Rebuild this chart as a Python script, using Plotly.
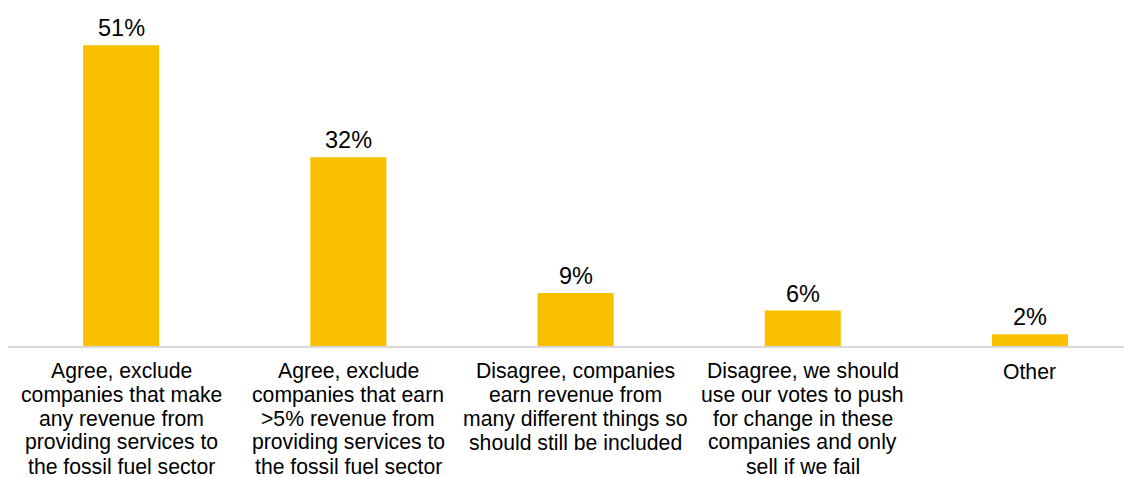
import plotly.graph_objects as go

categories = [
    "Agree, exclude<br>companies that make<br>any revenue from<br>providing services to<br>the fossil fuel sector",
    "Agree, exclude<br>companies that earn<br>>5% revenue from<br>providing services to<br>the fossil fuel sector",
    "Disagree, companies<br>earn revenue from<br>many different things so<br>should still be included",
    "Disagree, we should<br>use our votes to push<br>for change in these<br>companies and only<br>sell if we fail",
    "Other",
]
values = [51, 32, 9, 6, 2]
labels = [f"{v}%" for v in values]

FONT = "Liberation Sans, Arial, sans-serif"
xs = list(range(len(categories)))

fig = go.Figure(go.Bar(
    x=xs,
    y=values,
    marker=dict(color="#F9C000", line=dict(width=0)),
    width=0.335,
    hoverinfo="skip",
))

annotations = []
# value labels above bars
for x, v, lab in zip(xs, values, labels):
    annotations.append(dict(
        x=x, y=v, xref="x", yref="y", text=lab, showarrow=False,
        yanchor="bottom", yshift=2,
        font=dict(family=FONT, size=23.5, color="#000000"),
    ))
# category labels below axis, one line each with tight line spacing
LINE = 23.75
for x, cat in zip(xs, categories):
    for k, line in enumerate(cat.split("<br>")):
        annotations.append(dict(
            x=x, y=0, xref="x", yref="y", text=line, showarrow=False,
            yanchor="middle", yshift=-(25 + k * LINE),
            font=dict(family=FONT, size=21.2, color="#000000"),
        ))

fig.update_layout(
    width=1124, height=469,
    margin=dict(l=0, r=0, t=0, b=131),
    paper_bgcolor="white", plot_bgcolor="white",
    showlegend=False,
    font=dict(family=FONT, size=21, color="#000000"),
    annotations=annotations,
    xaxis=dict(
        range=[-0.498, 4.449],
        tickvals=xs,
        showticklabels=False,
        automargin=False,
        showline=True, linecolor="#D9D9D9", linewidth=2,
        ticks="", showgrid=False, zeroline=False,
    ),
    yaxis=dict(
        range=[0, 57.3], visible=False, showgrid=False, zeroline=False,
        automargin=False,
    ),
)

fig.write_html("out.html")
